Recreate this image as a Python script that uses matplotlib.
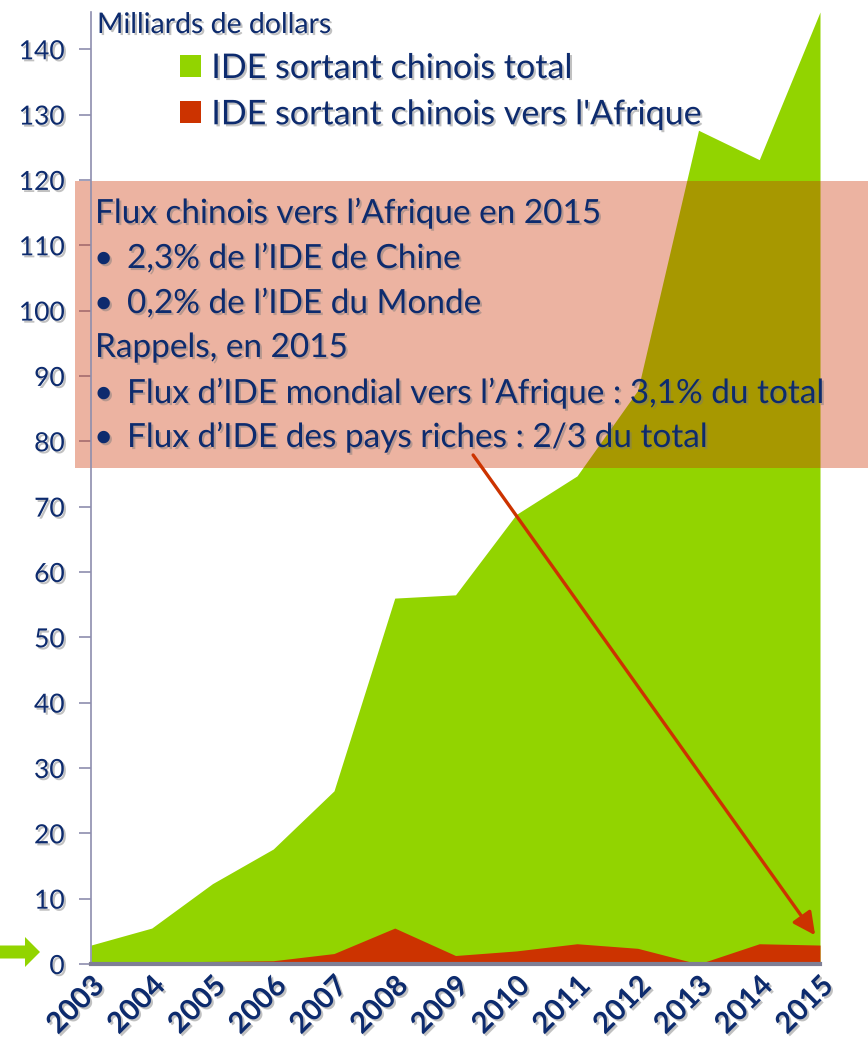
import matplotlib.pyplot as plt
import matplotlib.patheffects as pe
from matplotlib.patches import Patch, Rectangle, FancyArrow

# --- data (milliards de dollars) ---
years = [2003, 2004, 2005, 2006, 2007, 2008, 2009, 2010, 2011, 2012, 2013, 2014, 2015]
ide_total = [2.9, 5.5, 12.3, 17.6, 26.5, 56.0, 56.5, 68.8, 74.7, 87.8, 127.6, 123.1, 145.7]
ide_afrique = [0.1, 0.3, 0.4, 0.5, 1.6, 5.5, 1.3, 2.0, 3.1, 2.4, 0.0, 3.1, 2.9]
y_ticks = [0, 10, 20, 30, 40, 50, 60, 70, 80, 90, 100, 110, 120, 130, 140]

legend_labels = ["IDE sortant chinois total", "IDE sortant chinois vers l'Afrique"]
box_lines = [
    ("Flux chinois vers l\u2019Afrique en 2015", False),
    ("2,3% de l\u2019IDE de Chine", True),
    ("0,2% de l\u2019IDE du Monde", True),
    ("Rappels, en 2015", False),
    ("Flux d\u2019IDE mondial vers l\u2019Afrique : 3,1% du total", True),
    ("Flux d\u2019IDE des pays riches : 2/3 du total", True),
]

GREEN = "#92D400"
RED = "#CC3300"
NAVY = "#0D2B6E"
AXIS_COL = "#8E8EAE"

plt.rcParams['font.family'] = ['Lato', 'DejaVu Sans']
shadow = [pe.SimplePatchShadow(offset=(1.5, -1.5), shadow_rgbFace='#777777', alpha=0.45), pe.Normal()]

W, H = 868, 1044
fig = plt.figure(figsize=(W / 100, H / 100), dpi=100, facecolor='white')
ax = fig.add_axes([91 / W, 80 / H, (820 - 91) / W, (964 - 12) / H])

ax.fill_between(years, 0, ide_total, color=GREEN, lw=0, zorder=1)
ax.fill_between(years, 0, ide_afrique, color=RED, lw=0, zorder=1.1)

ax.set_xlim(years[0], years[-1])
ax.set_ylim(0, 145.7)
ax.set_yticks(y_ticks)
ax.set_xticks(years)

for s in ['top', 'right']:
    ax.spines[s].set_visible(False)
ax.spines['left'].set_color(AXIS_COL)
ax.spines['left'].set_linewidth(1.2)
ax.spines['bottom'].set_color('#7F7F95')
ax.spines['bottom'].set_linewidth(3)
ax.spines['bottom'].set_zorder(3)

ax.tick_params(axis='y', direction='out', length=9, width=1.2, color=AXIS_COL,
               labelcolor=NAVY, labelsize=19, pad=10)
ax.tick_params(axis='x', length=0, labelcolor=NAVY, labelsize=21, pad=6)
for lbl in ax.get_yticklabels():
    lbl.set_path_effects(shadow)
for lbl in ax.get_xticklabels():
    lbl.set_rotation(45)
    lbl.set_ha('right')
    lbl.set_va('top')
    lbl.set_rotation_mode('anchor')
    lbl.set_fontweight('bold')
    lbl.set_path_effects(shadow)

# shaded comment box
box = Rectangle((75 / W, 1 - 468 / H), (W - 75) / W, (468 - 181) / H,
                transform=fig.transFigure, facecolor=RED, alpha=0.37,
                edgecolor='none', zorder=2)
ax.add_artist(box)
box.set_clip_on(False)

# arrow pointing at the 2015 African flow
ax.annotate("", xy=(2014.92, 4.4), xytext=(2009.29, 77.9),
            arrowprops=dict(arrowstyle='-|>', color=RED, lw=2.4,
                            mutation_scale=34, shrinkA=0, shrinkB=0),
            zorder=4, annotation_clip=False)

# unit label
fig.text(97 / W, 1 - 33 / H, "Milliards de dollars", fontsize=20.5, color=NAVY,
         va='baseline', ha='left', path_effects=shadow)

# legend
handles = [Patch(facecolor=GREEN, edgecolor='none'), Patch(facecolor=RED, edgecolor='none')]
leg = fig.legend(handles, legend_labels, loc='upper left',
                 bbox_to_anchor=(180 / W, 1 - 52 / H), frameon=False,
                 fontsize=24.5, handlelength=0.62, handleheight=0.62,
                 handletextpad=0.3, labelspacing=0.42, borderpad=0, borderaxespad=0)
for t in leg.get_texts():
    t.set_color(NAVY)
    t.set_path_effects(shadow)

# box text
baselines = [223, 268, 313, 357, 403, 447]
for (txt, bullet), yb in zip(box_lines, baselines):
    yf = 1 - yb / H
    if bullet:
        fig.text(94 / W, yf, "\u2022", fontsize=24, color=NAVY, va='baseline',
                 path_effects=shadow, zorder=5)
        fig.text(127 / W, yf, txt, fontsize=24, color=NAVY, va='baseline',
                 path_effects=shadow, zorder=5)
    else:
        fig.text(95 / W, yf, txt, fontsize=24, color=NAVY, va='baseline',
                 path_effects=shadow, zorder=5)

# green pointer at the left of the zero line
arrow = FancyArrow(0.0, (H - 952) / 100, 0.40, 0.0, width=0.13, head_width=0.30,
                   head_length=0.15, length_includes_head=True,
                   transform=fig.dpi_scale_trans, color=GREEN, lw=0)
fig.add_artist(arrow)

fig.savefig("out.png", dpi=100, facecolor='white')
